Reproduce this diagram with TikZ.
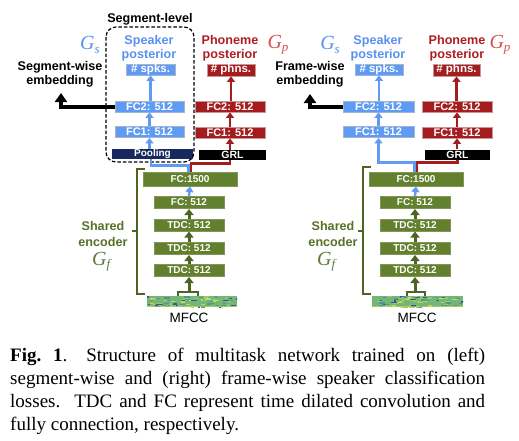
\documentclass[tikz,border=0pt]{standalone}
\usepackage{fontspec}
\setmainfont{Liberation Serif}
\setsansfont{Liberation Sans}
\usetikzlibrary{arrows.meta,calc}
\definecolor{cBlue}{RGB}{95,155,245}
\definecolor{cBlueTxt}{RGB}{90,145,240}
\definecolor{cBlueEdge}{RGB}{165,180,205}
\definecolor{cRed}{RGB}{165,28,30}
\definecolor{cRedTxt}{RGB}{175,30,35}
\definecolor{cRedG}{RGB}{215,80,80}
\definecolor{cRedEdge}{RGB}{200,150,150}
\definecolor{cGreen}{RGB}{98,128,45}
\definecolor{cGreenEdge}{RGB}{130,150,90}
\definecolor{cGreenTxt}{RGB}{88,112,40}
\definecolor{cGreenLine}{RGB}{78,100,35}
\definecolor{cGreenG}{RGB}{95,122,55}
\definecolor{cNavy}{RGB}{25,40,95}
\definecolor{mfBase}{RGB}{115,182,120}
\definecolor{mfA}{RGB}{75,150,150}
\definecolor{mfB}{RGB}{60,85,155}
\definecolor{mfC}{RGB}{200,215,80}
\definecolor{mfD}{RGB}{150,200,105}
\newcommand\drawmfcc[1]{%
 \begin{scope}
 \clip (#1.north west) rectangle (#1.south east);
 \foreach \k in {1,...,80}{
   \pgfmathsetmacro\rx{rnd*92-2}
   \pgfmathsetmacro\ry{rnd*11}
   \pgfmathsetmacro\rw{1.5+rnd*5}
   \pgfmathrandominteger{\rc}{1}{6}
   \ifcase\rc\or\def\cc{mfA}\or\def\cc{mfB}\or\def\cc{mfC}\or\def\cc{mfD}\or\def\cc{mfA}\or\def\cc{mfD}\fi
   \fill[\cc] ($(#1.north west)+(\rx,\ry)$) rectangle ++(\rw,1.3);
 }
 \fill[mfC, opacity=0.6] ($(#1.south west)+(0,-1.5)$) rectangle (#1.south east);
 \end{scope}}
\newcommand\Gsym[2]{\textit{#1}\raisebox{-3.5pt}{\fontsize{13}{13}\selectfont\textit{#2}}}
\tikzset{
 bbox/.style={fill=cBlue, draw=cBlueEdge, line width=0.8pt, inner sep=0pt, text=white,
   font=\sffamily\bfseries\fontsize{11}{11}\selectfont, minimum height=11pt},
 rbox/.style={fill=cRed, draw=cRedEdge, line width=0.8pt, inner sep=0pt, text=white,
   font=\sffamily\bfseries\fontsize{11}{11}\selectfont, minimum height=11pt},
 gbox/.style={fill=cGreen, draw=cGreenEdge, line width=1pt, inner sep=0pt, text=white,
   font=\sffamily\bfseries\fontsize{10}{10}\selectfont, minimum height=12pt},
 kbox/.style={fill=black, inner sep=0pt, text=white,
   font=\sffamily\bfseries\fontsize{10.5}{10}\selectfont, minimum height=10pt},
 hbox/.style={font=\sffamily\bfseries\fontsize{11.5}{11}\selectfont},
 lbl/.style={font=\sffamily\bfseries\fontsize{12.6}{14.5}\selectfont, align=center, inner sep=0pt},
 gsym/.style={font=\fontsize{20}{20}\selectfont, inner sep=0pt},
 barrow/.style={draw=cBlue, line width=2.5pt, -{Triangle[width=8pt,length=5.5pt]}},
 bline/.style={draw=cBlue, line width=2.5pt},
 rarrow/.style={draw=cRed, line width=2.5pt, -{Triangle[width=8pt,length=5.5pt]}},
 rline/.style={draw=cRed, line width=2.5pt},
 garrow/.style={draw=cGreenLine, line width=3pt, -{Triangle[width=9pt,length=6pt]}},
 gline/.style={draw=cGreenLine, line width=2.2pt},
 embarrow/.style={draw=black, line width=4pt, -{Triangle[width=12pt,length=9pt]}},
 mfcc/.style={fill=mfBase, inner sep=0pt, minimum height=11pt},
}
\begin{document}
\begin{tikzpicture}[x=1pt,y=-1pt]
\fill[white] (0,0) rectangle (519,440);
\useasboundingbox (0,0) rectangle (519,440);
\pgfmathsetseed{7}

% ================= LEFT =================
\node[lbl] (seglevel) at (150,19) {Segment-level};
\node[gsym, text=cBlueTxt] (gsL) at (90,45) {\Gsym{G}{s}};
\node[gsym, text=cRedG] (gpL) at (278,45) {\Gsym{G}{p}};
\node[lbl, text=cBlueTxt] (spkpL) at (149,48) {Speaker\\posterior};
\node[lbl, text=cRedTxt] (phnpL) at (230,48) {Phoneme\\posterior};
\node[lbl] (embL) at (60,74.5) {Segment-wise\\embedding};

\node[bbox, hbox, minimum width=49pt] (spksL) at (150.5,69.5) {\# spks.};
\node[bbox, minimum width=69pt] (fc2bL) at (149.5,106.5) {FC2: 512};
\node[bbox, minimum width=69pt] (fc1bL) at (149.5,132) {FC1: 512};
\node[fill=cNavy, inner sep=0pt, text=white, font=\sffamily\bfseries\fontsize{10}{10}\selectfont,
  minimum width=81pt, minimum height=10pt] (poolL) at (152.5,154) {Pooling};
\node[rbox, hbox, minimum width=48pt, minimum height=12pt] (phnsL) at (231,70) {\# phns.};
\node[rbox, minimum width=70pt] (fc2rL) at (230,106.5) {FC2: 512};
\node[rbox, minimum width=70pt] (fc1rL) at (230,132.5) {FC1: 512};
\node[kbox, minimum width=67pt] (grlL) at (232.5,155) {GRL};

\node[gbox, minimum width=94pt, minimum height=14pt] (fc1500L) at (190,179) {FC:1500};
\node[gbox, minimum width=70pt] (fc512L) at (189,202.5) {FC: 512};
\node[gbox, minimum width=70pt] (tdc1L) at (189,225) {TDC: 512};
\node[gbox, minimum width=70pt] (tdc2L) at (189,248.5) {TDC: 512};
\node[gbox, minimum width=70pt] (tdc3L) at (189,270.5) {TDC: 512};
\node[mfcc, minimum width=90pt] (mfccL) at (192,301.5) {};
\drawmfcc{mfccL}
\node[font=\sffamily\fontsize{13.5}{14}\selectfont, inner sep=0pt] (mfcctL) at (189,318) {MFCC};

\node[lbl, text=cGreenTxt, font=\sffamily\bfseries\fontsize{12.6}{16}\selectfont] (shL) at (103,234) {Shared\\encoder};
\node[gsym, text=cGreenG] (gfL) at (102,262) {\Gsym{G}{f}};

% dashed segment-level box
\draw[line width=1.2pt, dash pattern=on 3.5pt off 2pt, rounded corners=10pt] (106,27) rectangle (194,162);

% connectors left
\draw[barrow] (spksL.south |- fc2bL.north) -- (spksL.south);
\draw[barrow] (fc1bL.north) -- (fc2bL.south);
\draw[barrow] (fc1bL.south |- poolL.north) -- (fc1bL.south);
\draw[bline] ($(fc1500L.north)+(-1.5,0)$) -- ++(0,-6) -| ($(fc1bL.south |- poolL.south)+(1.5,0)$);
\draw[rline] ($(fc1500L.north)+(1.2,0)$) -- ++(0,-8) -| ($(grlL.south)+(-2.5,0)$);
\draw[rarrow] (phnsL.south |- fc2rL.north) -- (phnsL.south);
\draw[rarrow] (fc1rL.north) -- (fc2rL.south);
\draw[rarrow] (fc1rL.south |- grlL.north) -- (fc1rL.south);
\draw[barrow] (fc512L.north) -- (fc1500L.south);
\draw[garrow] (tdc1L.north) -- (fc512L.south);
\draw[garrow] (tdc2L.north) -- (tdc1L.south);
\draw[garrow] (tdc3L.north) -- (tdc2L.south);
\coordinate (brL) at (189,292);
\draw[gline] ($(mfccL.north)+(-14,0)$) |- (brL) -| ($(mfccL.north)+(6,0)$);
\draw[garrow] (brL) -- (tdc3L.south);
\coordinate (tipL) at (61,93);
\draw[embarrow] (fc2bL.west) -| (tipL);
\draw[gline] (145,169) -- (137,169) -- (137,294) -- (145,294);
\draw[gline] (137,231) -- (131.5,231);

% ================= RIGHT =================
\node[gsym, text=cBlueTxt] (gsR) at (330,45) {\Gsym{G}{s}};
\node[gsym, text=cRedG] (gpR) at (500,45) {\Gsym{G}{p}};
\node[lbl, text=cBlueTxt] (spkpR) at (378,48) {Speaker\\posterior};
\node[lbl, text=cRedTxt] (phnpR) at (457,48) {Phoneme\\posterior};
\node[lbl] (embR) at (310,74.5) {Frame-wise\\embedding};

\node[bbox, hbox, minimum width=48pt] (spksR) at (379,69.5) {\# spks.};
\node[bbox, minimum width=71pt] (fc2bR) at (378.5,106.5) {FC2: 512};
\node[bbox, minimum width=71pt] (fc1bR) at (378.5,132) {FC1: 512};
\node[rbox, hbox, minimum width=47pt, minimum height=12pt] (phnsR) at (456.5,70) {\# phns.};
\node[rbox, minimum width=70pt] (fc2rR) at (457,106.5) {FC2: 512};
\node[rbox, minimum width=70pt] (fc1rR) at (457,132.5) {FC1: 512};
\node[kbox, minimum width=65pt] (grlR) at (457.5,154.5) {GRL};

\node[gbox, minimum width=94pt, minimum height=14pt] (fc1500R) at (416,179) {FC:1500};
\node[gbox, minimum width=70pt] (fc512R) at (415,202.5) {FC: 512};
\node[gbox, minimum width=70pt] (tdc1R) at (415,225) {TDC: 512};
\node[gbox, minimum width=70pt] (tdc2R) at (415,248.5) {TDC: 512};
\node[gbox, minimum width=70pt] (tdc3R) at (415,270.5) {TDC: 512};
\node[mfcc, minimum width=91pt] (mfccR) at (417.5,301.5) {};
\drawmfcc{mfccR}
\node[font=\sffamily\fontsize{13.5}{14}\selectfont, inner sep=0pt] (mfcctR) at (417,318) {MFCC};

\node[lbl, text=cGreenTxt, font=\sffamily\bfseries\fontsize{12.6}{16}\selectfont] (shR) at (333,234) {Shared\\encoder};
\node[gsym, text=cGreenG] (gfR) at (327,262) {\Gsym{G}{f}};

% connectors right
\draw[barrow] (spksR.south |- fc2bR.north) -- (spksR.south);
\draw[barrow] (fc1bR.north) -- (fc2bR.south);
\draw[barrow] ($(fc1500R.north)+(-1.5,0)$) -- ++(0,-9) -| (fc1bR.south);
\draw[rline] ($(fc1500R.north)+(1.2,0)$) -- ++(0,-9) -| (grlR.south);
\draw[rarrow] (phnsR.south |- fc2rR.north) -- (phnsR.south);
\draw[rarrow] (fc1rR.north) -- (fc2rR.south);
\draw[rarrow] (fc1rR.south |- grlR.north) -- (fc1rR.south);
\draw[barrow] (fc512R.north) -- (fc1500R.south);
\draw[garrow] (tdc1R.north) -- (fc512R.south);
\draw[garrow] (tdc2R.north) -- (tdc1R.south);
\draw[garrow] (tdc3R.north) -- (tdc2R.south);
\coordinate (brR) at (415,292);
\draw[gline] ($(mfccR.north)+(-10.5,0)$) |- (brR) -| ($(mfccR.north)+(7.5,0)$);
\draw[garrow] (brR) -- (tdc3R.south);
\coordinate (tipR) at (310,94);
\draw[embarrow] (fc2bR.west) -| (tipR);
\draw[gline] (371,167) -- (363,167) -- (363,294) -- (371,294);
\draw[gline] (363,231) -- (357.5,231);

% ================= CAPTION =================
\node[anchor=base west, text width=475pt, align=justify, inner sep=0pt,
  font=\fontsize{19}{22.8}\selectfont] (cap) at (10,361.7)
{\textbf{Fig.~1}.\quad Structure of multitask network trained on (left)\linebreak
segment-wise and (right) frame-wise speaker classification\linebreak
losses.\ \ TDC and FC represent time dilated convolution and\linebreak
fully connection, respectively.};
\end{tikzpicture}
\end{document}
